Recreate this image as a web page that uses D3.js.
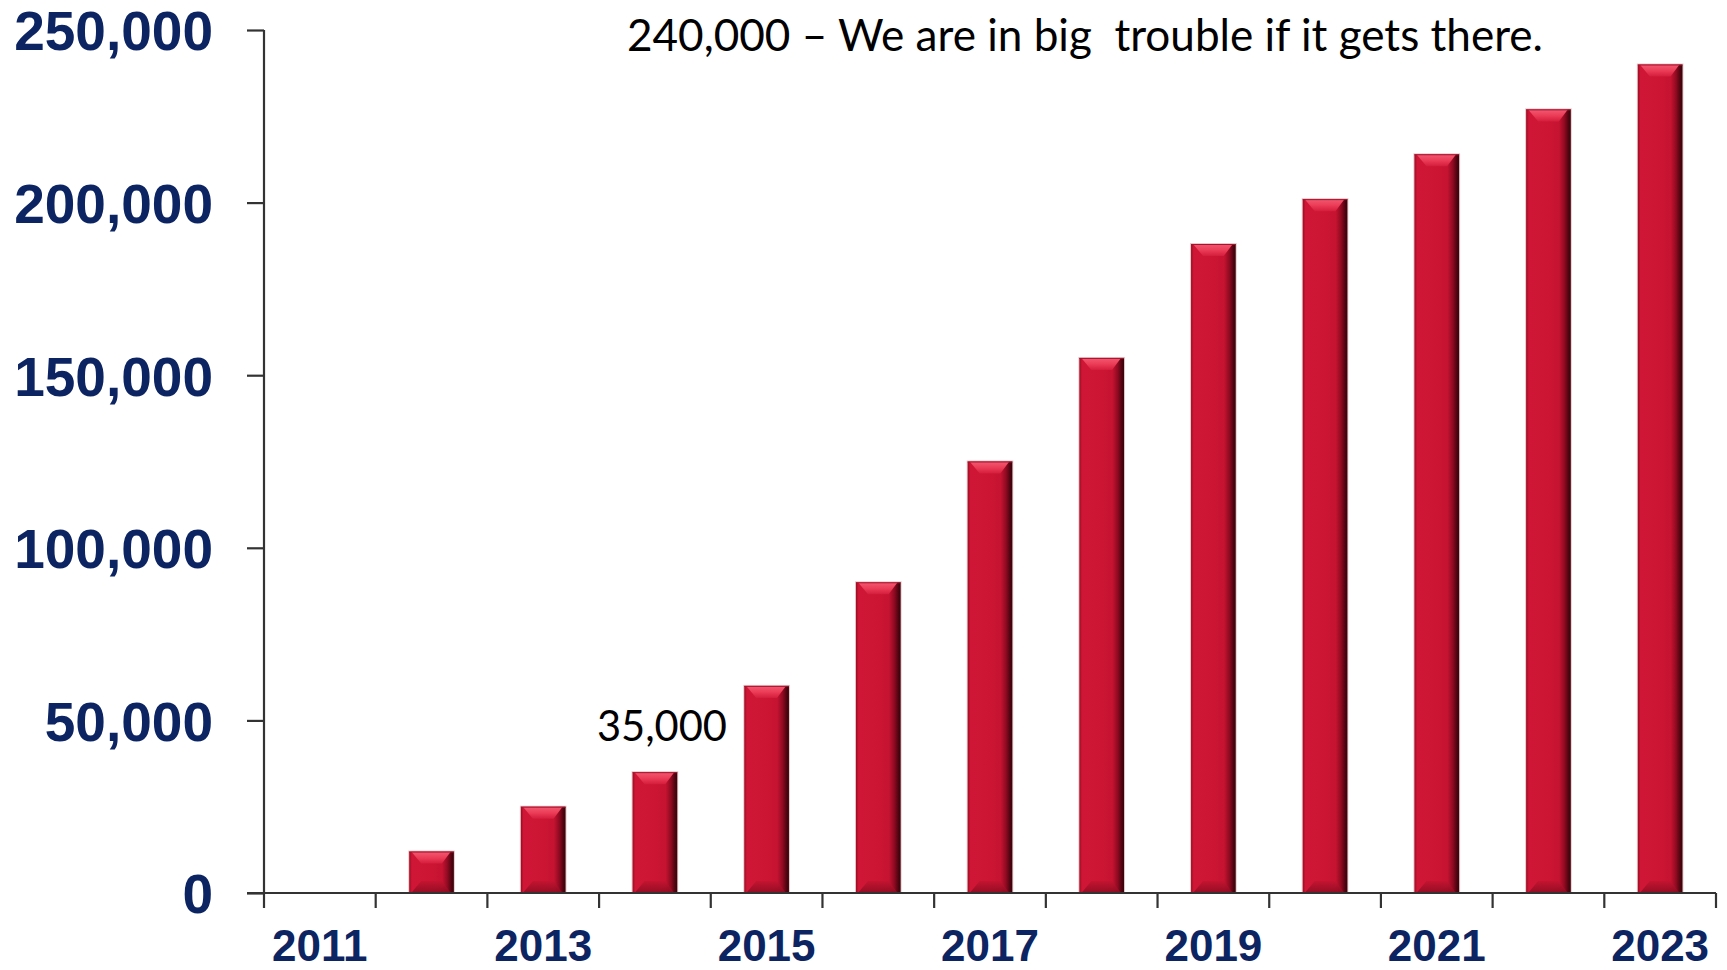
<!DOCTYPE html>
<html>
<head>
<meta charset="utf-8">
<script src="https://cdn.jsdelivr.net/npm/d3@7"></script>
<style>
  html, body { margin: 0; padding: 0; background: #ffffff; }
  svg { display: block; }
</style>
</head>
<body>
<svg id="chart" width="1727" height="970"></svg>
<script>
// Yearly totals, 2011 through 2023
const years = ["2011","2012","2013","2014","2015","2016","2017","2018","2019","2020","2021","2022","2023"];
const totals = [0, 12000, 25000, 35000, 60000, 90000, 125000, 155000, 188000, 201000, 214000, 227000, 240000];

// Axis labels
const yTicks = [0, 50000, 100000, 150000, 200000, 250000];
const xLabels = ["2011","2013","2015","2017","2019","2021","2023"];

// Callouts
const noteYear = "2014";
const noteValue = 35000;
const headline = "240,000 \u2013 We are in big  trouble if it gets there.";

const data = years.map((y, i) => ({ year: y, value: totals[i] }));

const svg = d3.select("#chart");

const x = d3.scaleBand()
  .domain(years)
  .range([264, 1716])
  .paddingInner(0.6)
  .paddingOuter(0.3);

const y = d3.scaleLinear()
  .domain([0, 250000])
  .range([893, 30]);

const navy = "#0c2462";
const axisColor = "#333333";

// ---- bar shading ----
const defs = svg.append("defs");

const side = defs.append("linearGradient").attr("id", "barSide")
  .attr("x1", "0").attr("x2", "1").attr("y1", "0").attr("y2", "0");
[[0, "#9c0c22"], [0.06, "#cf1636"], [0.5, "#cc1533"], [0.74, "#c51331"],
 [0.86, "#8e0a20"], [0.95, "#4e0410"], [1, "#3a0309"]]
  .forEach(([o, c]) => side.append("stop").attr("offset", o).attr("stop-color", c));

const topBevel = defs.append("linearGradient").attr("id", "barTop")
  .attr("x1", "0").attr("x2", "0").attr("y1", "0").attr("y2", "1");
[[0, "#f25a72"], [0.5, "#ec3d58"], [1, "#d41d3c"]]
  .forEach(([o, c]) => topBevel.append("stop").attr("offset", o).attr("stop-color", c));

const bottomBevel = defs.append("linearGradient").attr("id", "barBottom")
  .attr("x1", "0").attr("x2", "0").attr("y1", "0").attr("y2", "1");
[[0, "#c21431"], [1, "#8a0b20"]]
  .forEach(([o, c]) => bottomBevel.append("stop").attr("offset", o).attr("stop-color", c));

// ---- bars ----
const bw = x.bandwidth();
const bev = 12;
const bars = svg.append("g").attr("class", "bars")
  .selectAll("g")
  .data(data.filter(d => d.value > 0))
  .join("g");

// soft halo around each bar
bars.append("rect")
  .attr("x", d => x(d.year) - 1)
  .attr("y", d => y(d.value) - 1)
  .attr("width", bw + 2)
  .attr("height", d => y(0) - y(d.value) + 1)
  .attr("fill", "#e6c9cc");

bars.append("rect")
  .attr("x", d => x(d.year))
  .attr("y", d => y(d.value))
  .attr("width", bw)
  .attr("height", d => y(0) - y(d.value))
  .attr("fill", "url(#barSide)");

bars.append("path")
  .attr("d", d => {
    const x0 = x(d.year), x1 = x0 + bw, t = y(d.value);
    return `M${x0 + 2},${t}L${x1 - 3},${t}L${x1 - bev},${t + bev}L${x0 + bev},${t + bev}Z`;
  })
  .attr("fill", "url(#barTop)");

bars.append("path")
  .attr("d", d => {
    const x0 = x(d.year), x1 = x0 + bw, b = y(0);
    const h = Math.min(bev, (y(0) - y(d.value)) / 3);
    return `M${x0 + 2},${b}L${x1 - 3},${b}L${x1 - bev},${b - h}L${x0 + bev},${b - h}Z`;
  })
  .attr("fill", "url(#barBottom)")
  .attr("opacity", 0.85);

bars.append("line")
  .attr("x1", d => x(d.year))
  .attr("x2", d => x(d.year) + bw)
  .attr("y1", d => y(d.value) + 0.5)
  .attr("y2", d => y(d.value) + 0.5)
  .attr("stroke", "#a8132d")
  .attr("stroke-width", 1);

// ---- y axis ----
const yAxis = svg.append("g")
  .attr("transform", "translate(264,0)")
  .call(d3.axisLeft(y)
    .tickValues(yTicks)
    .tickFormat(d3.format(","))
    .tickSize(17)
    .tickPadding(34));
yAxis.select(".domain").attr("stroke", axisColor).attr("stroke-width", 2.2)
  .attr("d", `M0,${y(250000)}V${y(0)}`);
yAxis.selectAll(".tick line").attr("stroke", axisColor).attr("stroke-width", 2.2);
yAxis.selectAll(".tick text")
  .attr("fill", navy)
  .attr("dy", "0.36em")
  .style("font-family", "'Liberation Sans', Arial, sans-serif")
  .style("font-weight", "bold")
  .style("font-size", "55px");

// ---- x axis ----
const step = x.step();
const edges = years.map(d => x(d) - step * x.paddingInner() / 2)
  .concat([x(years[years.length - 1]) + bw + step * x.paddingInner() / 2]);

const xAxis = svg.append("g").attr("class", "x-axis");
xAxis.append("line")
  .attr("x1", 247).attr("x2", edges[edges.length - 1])
  .attr("y1", y(0)).attr("y2", y(0))
  .attr("stroke", axisColor).attr("stroke-width", 2.2);
xAxis.selectAll("line.tick")
  .data(edges)
  .join("line")
  .attr("class", "tick")
  .attr("x1", d => d).attr("x2", d => d)
  .attr("y1", y(0)).attr("y2", y(0) + 15)
  .attr("stroke", axisColor).attr("stroke-width", 2.2);
xAxis.selectAll("text")
  .data(xLabels)
  .join("text")
  .attr("x", d => x(d) + bw / 2)
  .attr("y", 961)
  .attr("text-anchor", "middle")
  .attr("fill", navy)
  .style("font-family", "'Liberation Sans', Arial, sans-serif")
  .style("font-weight", "bold")
  .style("font-size", "44px")
  .text(d => d);

// ---- callouts ----
svg.append("text")
  .attr("x", x(noteYear) + bw / 2 + 7)
  .attr("y", y(noteValue) - 31)
  .attr("text-anchor", "middle")
  .attr("fill", "#000")
  .attr("textLength", 130)
  .attr("lengthAdjust", "spacingAndGlyphs")
  .style("font-family", "Lato, 'Open Sans', sans-serif")
  .style("font-size", "43px")
  .text(d3.format(",")(noteValue));

svg.append("text")
  .attr("x", 627)
  .attr("y", 51)
  .attr("fill", "#000")
  .attr("textLength", 916)
  .attr("lengthAdjust", "spacingAndGlyphs")
  .style("white-space", "pre")
  .style("font-family", "Lato, 'Open Sans', sans-serif")
  .style("font-size", "44px")
  .text(headline);
</script>
</body>
</html>
